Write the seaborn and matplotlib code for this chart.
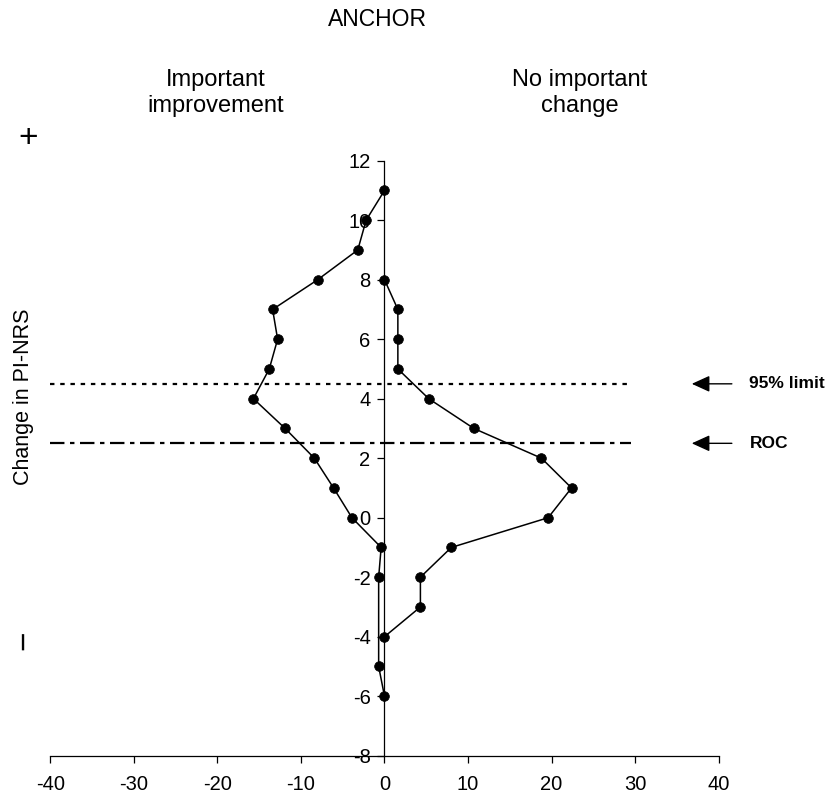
import numpy as np
import pandas as pd
import seaborn as sns
import matplotlib.pyplot as plt

# 左側 (Important improvement) の分布
improve_nrs = [11, 10, 9, 8, 7, 6, 5, 4, 3, 2, 1, 0, -1, -2, -5, -6]
improve_pct = [0, -2.2, -3.2, -8, -13.4, -12.8, -13.8, -15.7, -11.9, -8.4, -6.1, -3.9, -0.4, -0.7, -0.7, 0]

# 右側 (No important change) の分布
nochange_nrs = [8, 7, 6, 5, 4, 3, 2, 1, 0, -1, -2, -3, -4]
nochange_pct = [0, 1.6, 1.6, 1.6, 5.3, 10.7, 18.8, 22.4, 19.6, 8.0, 4.3, 4.3, 0]

# カットオフ
limit_95 = 4.5
roc_cut = 2.5

x_ticks = list(range(-40, 41, 10))
y_ticks = list(range(-8, 13, 2))

df = pd.concat([
    pd.DataFrame({'pct': improve_pct, 'nrs': improve_nrs, 'group': 'improve'}),
    pd.DataFrame({'pct': nochange_pct, 'nrs': nochange_nrs, 'group': 'nochange'}),
], ignore_index=True)

sns.set_style('ticks', rc={'text.color': 'black', 'xtick.color': 'black',
                           'ytick.color': 'black', 'axes.edgecolor': 'black'})
plt.rcParams['font.family'] = ['Liberation Sans', 'DejaVu Sans']
plt.rcParams['axes.unicode_minus'] = False

W, H = 829, 796
fig = plt.figure(figsize=(W / 100, H / 100), dpi=100)
ax = fig.add_axes([50.5 / W, 1 - 755.7 / H, 668 / W, 595 / H])

for g, sub in df.groupby('group'):
    sns.lineplot(data=sub, x='pct', y='nrs', sort=False, estimator=None,
                 color='black', linewidth=1.1, marker='o', markersize=7,
                 markeredgecolor='black', markeredgewidth=0.5, ax=ax, legend=False)

# 水平線
ax.hlines(limit_95, -40, 29.5, colors='black', linewidth=1.6,
          linestyles=[(0, (2.0, 2.6))])
ax.hlines(roc_cut, -40, 29.5, colors='black', linewidth=1.6,
          linestyles=[(0, (6.5, 2.5, 2, 2.5))])

for yv, lab in [(limit_95, '95% limit'), (roc_cut, 'ROC')]:
    ax.annotate('', xy=(36.8, yv), xytext=(41.6, yv), annotation_clip=False,
                arrowprops=dict(arrowstyle='-|>,head_length=1.1,head_width=0.5',
                                color='black', lw=1.0, shrinkA=0, shrinkB=0))
    ax.text(43.7, yv, lab, ha='left', va='center', fontsize=12.5,
            fontweight='bold', clip_on=False)

ax.set_xlim(-40, 40)
ax.set_ylim(-8, 12)
ax.set_xticks(x_ticks)
ax.set_yticks(y_ticks)
ax.set_xlabel('')
ax.set_ylabel('')

ax.spines['left'].set_position(('data', 0))
ax.spines['top'].set_visible(False)
ax.spines['right'].set_visible(False)
for s in ['left', 'bottom']:
    ax.spines[s].set_linewidth(0.9)
    ax.spines[s].set_color('black')
ax.tick_params(axis='both', direction='out', length=5, width=0.9,
               labelsize=14.5, colors='black', bottom=True, left=True)
ax.tick_params(axis='x', pad=9)
ax.tick_params(axis='y', pad=5)

# 見出し
fig.text(377 / W, 1 - 19 / H, 'ANCHOR', ha='center', va='center', fontsize=16.5)
fig.text(216 / W, 1 - 93 / H, 'Important\nimprovement', ha='center', va='center',
         fontsize=17, linespacing=1.25)
fig.text(580 / W, 1 - 93 / H, 'No important\nchange', ha='center', va='center',
         fontsize=17, linespacing=1.25)
fig.text(24 / W, 1 - 397 / H, 'Change in PI-NRS', ha='center', va='center',
         rotation=90, fontsize=15.5)
fig.text(28 / W, 1 - 138 / H, '+', ha='center', va='center', fontsize=24)
fig.text(25 / W, 1 - 640 / H, '\u2212', ha='center', va='center', rotation=90, fontsize=24)

plt.savefig('out.png', dpi=100)
